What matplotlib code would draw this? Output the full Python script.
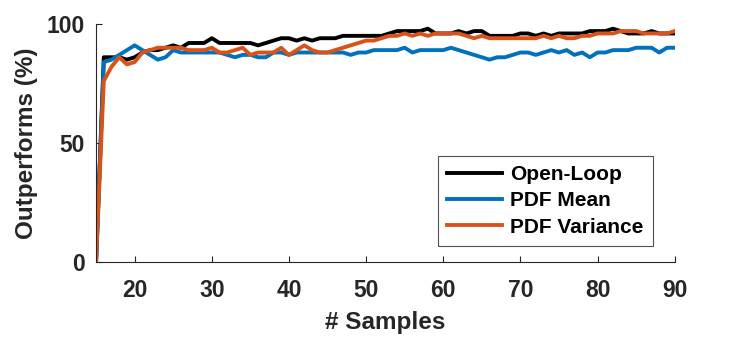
import numpy as np
import matplotlib
matplotlib.use("Agg")
import matplotlib.pyplot as plt

samples = list(range(15, 91))
open_loop = [0, 86, 86, 86, 85, 86, 88, 89, 89, 90, 91, 90, 92, 92, 92, 94, 92, 92, 92, 92,
             92, 91, 92, 93, 94, 94, 93, 94, 93, 94, 94, 94, 95, 95, 95, 95, 95, 95, 96, 97,
             97, 97, 97, 98, 96, 96, 96, 97, 96, 97, 97, 95, 95, 95, 95, 96, 96, 95, 96, 95,
             96, 96, 96, 96, 97, 97, 97, 98, 97, 96, 96, 96, 97, 96, 96, 96]
pdf_mean = [0, 84, 85, 87, 89, 91, 89, 87, 85, 86, 89, 88, 88, 88, 88, 88, 88, 87, 86, 87,
            87, 86, 86, 88, 88, 87, 88, 88, 88, 88, 88, 88, 88, 87, 88, 88, 89, 89, 89, 89,
            90, 88, 89, 89, 89, 89, 90, 89, 88, 87, 86, 85, 86, 86, 87, 88, 88, 87, 88, 89,
            88, 89, 87, 88, 86, 88, 88, 89, 89, 89, 90, 90, 90, 88, 90, 90]
pdf_var = [0, 76, 82, 86, 83, 84, 88, 89, 90, 90, 90, 90, 89, 89, 89, 90, 88, 88, 89, 90,
           87, 88, 88, 88, 90, 87, 89, 91, 89, 88, 88, 89, 90, 91, 92, 93, 93, 94, 95, 95,
           96, 95, 96, 95, 96, 96, 96, 96, 95, 94, 95, 94, 94, 94, 94, 94, 94, 94, 95, 94,
           95, 94, 94, 95, 95, 96, 96, 96, 97, 97, 97, 96, 96, 96, 96, 97]

labels = ["Open-Loop", "PDF Mean", "PDF Variance"]
colors = ["#000000", "#0072BD", "#D95319"]

plt.rcParams["font.family"] = ["Liberation Sans", "DejaVu Sans"]
plt.rcParams["font.weight"] = "bold"

fig = plt.figure(figsize=(7.39, 3.42), dpi=100)
ax = fig.add_axes([0.130, 0.234, 0.783, 0.696])

for y, lab, c in zip([open_loop, pdf_mean, pdf_var], labels, colors):
	ax.plot(samples, y, color=c, lw=2.8, label=lab)

ax.set_xlim(15, 90)
ax.set_ylim(0, 100)
ax.set_xticks(range(20, 91, 10))
ax.set_yticks([0, 50, 100])
ax.tick_params(direction="in", length=4, width=0.8, colors="#262626", labelsize=16.5)
ax.tick_params(axis="x", pad=12)
ax.tick_params(axis="y", pad=8)
for s in ["top", "right"]:
	ax.spines[s].set_visible(False)
for s in ["left", "bottom"]:
	ax.spines[s].set_color("#262626")
	ax.spines[s].set_linewidth(0.8)
for t in ax.get_xticklabels() + ax.get_yticklabels():
	t.set_fontweight("bold")

ax.set_xlabel("# Samples", fontsize=17.5, fontweight="bold", color="#262626", labelpad=7)
ax.set_ylabel("Outperforms (%)", fontsize=17.5, fontweight="bold", color="#262626", labelpad=6)

leg = ax.legend(loc="lower right", bbox_to_anchor=(0.962, 0.067), borderaxespad=0,
	fontsize=15, frameon=True, fancybox=False, edgecolor="#262626", handlelength=2.6,
	handletextpad=0.4, labelspacing=0.35, borderpad=0.45)
leg.get_frame().set_linewidth(0.8)
for t in leg.get_texts():
	t.set_fontweight("bold")

fig.savefig("out.png", dpi=100)
